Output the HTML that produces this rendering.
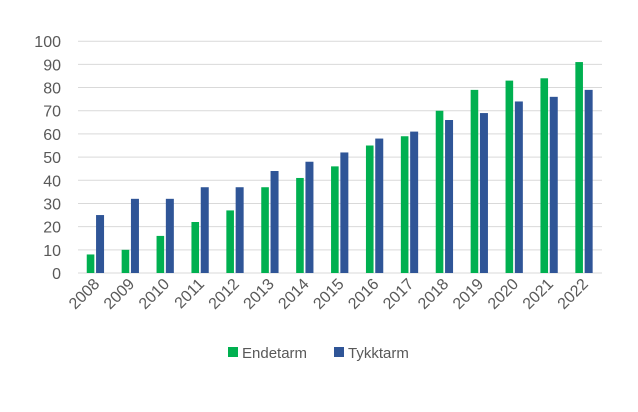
<!DOCTYPE html><html><head><style>body{margin:0;background:#fff}</style></head><body>
<svg width="638" height="407" xmlns="http://www.w3.org/2000/svg" font-family="Liberation Sans, sans-serif" fill="#595959">
<g stroke="#d9d9d9" stroke-width="1">
<line x1="78" x2="602" y1="273" y2="273"/><line x1="78" x2="602" y1="249.82" y2="249.82"/><line x1="78" x2="602" y1="226.64" y2="226.64"/><line x1="78" x2="602" y1="203.46" y2="203.46"/><line x1="78" x2="602" y1="180.28" y2="180.28"/><line x1="78" x2="602" y1="157.1" y2="157.1"/><line x1="78" x2="602" y1="133.92" y2="133.92"/><line x1="78" x2="602" y1="110.74" y2="110.74"/><line x1="78" x2="602" y1="87.56" y2="87.56"/><line x1="78" x2="602" y1="64.38" y2="64.38"/><line x1="78" x2="602" y1="41.2" y2="41.2"/>
</g>
<g font-size="16" text-anchor="end">
<text x="61" y="279">0</text><text x="61" y="255.8">10</text><text x="61" y="232.6">20</text><text x="61" y="209.5">30</text><text x="61" y="186.3">40</text><text x="61" y="163.1">50</text><text x="61" y="139.9">60</text><text x="61" y="116.7">70</text><text x="61" y="93.6">80</text><text x="61" y="70.4">90</text><text x="61" y="47.2">100</text>
</g>
<g fill="#00b050">
<rect x="86.75" y="254.46" width="7.6" height="18.54"/><rect x="121.65" y="249.82" width="7.6" height="23.18"/><rect x="156.55" y="235.91" width="7.6" height="37.09"/><rect x="191.45" y="222" width="7.6" height="51"/><rect x="226.35" y="210.41" width="7.6" height="62.59"/><rect x="261.25" y="187.23" width="7.6" height="85.77"/><rect x="296.15" y="177.96" width="7.6" height="95.04"/><rect x="331.05" y="166.37" width="7.6" height="106.63"/><rect x="365.95" y="145.51" width="7.6" height="127.49"/><rect x="400.85" y="136.24" width="7.6" height="136.76"/><rect x="435.75" y="110.74" width="7.6" height="162.26"/><rect x="470.65" y="89.88" width="7.6" height="183.12"/><rect x="505.55" y="80.61" width="7.6" height="192.39"/><rect x="540.45" y="78.29" width="7.6" height="194.71"/><rect x="575.35" y="62.06" width="7.6" height="210.94"/>
</g>
<g fill="#2f5597">
<rect x="96.05" y="215.05" width="8" height="57.95"/><rect x="130.95" y="198.82" width="8" height="74.18"/><rect x="165.85" y="198.82" width="8" height="74.18"/><rect x="200.75" y="187.23" width="8" height="85.77"/><rect x="235.65" y="187.23" width="8" height="85.77"/><rect x="270.55" y="171.01" width="8" height="101.99"/><rect x="305.45" y="161.74" width="8" height="111.26"/><rect x="340.35" y="152.46" width="8" height="120.54"/><rect x="375.25" y="138.56" width="8" height="134.44"/><rect x="410.15" y="131.6" width="8" height="141.4"/><rect x="445.05" y="120.01" width="8" height="152.99"/><rect x="479.95" y="113.06" width="8" height="159.94"/><rect x="514.85" y="101.47" width="8" height="171.53"/><rect x="549.75" y="96.83" width="8" height="176.17"/><rect x="584.65" y="89.88" width="8" height="183.12"/>
</g>
<g font-size="16" text-anchor="end">
<text transform="translate(100.45,285) rotate(-45)">2008</text><text transform="translate(135.35,285) rotate(-45)">2009</text><text transform="translate(170.25,285) rotate(-45)">2010</text><text transform="translate(205.15,285) rotate(-45)">2011</text><text transform="translate(240.05,285) rotate(-45)">2012</text><text transform="translate(274.95,285) rotate(-45)">2013</text><text transform="translate(309.85,285) rotate(-45)">2014</text><text transform="translate(344.75,285) rotate(-45)">2015</text><text transform="translate(379.65,285) rotate(-45)">2016</text><text transform="translate(414.55,285) rotate(-45)">2017</text><text transform="translate(449.45,285) rotate(-45)">2018</text><text transform="translate(484.35,285) rotate(-45)">2019</text><text transform="translate(519.25,285) rotate(-45)">2020</text><text transform="translate(554.15,285) rotate(-45)">2021</text><text transform="translate(589.05,285) rotate(-45)">2022</text>
</g>
<rect x="228" y="347" width="10" height="10" fill="#00b050"/><text x="242" y="358" font-size="15">Endetarm</text>
<rect x="334" y="347" width="10" height="10" fill="#2f5597"/><text x="348" y="358" font-size="15">Tykktarm</text>
</svg></body></html>
